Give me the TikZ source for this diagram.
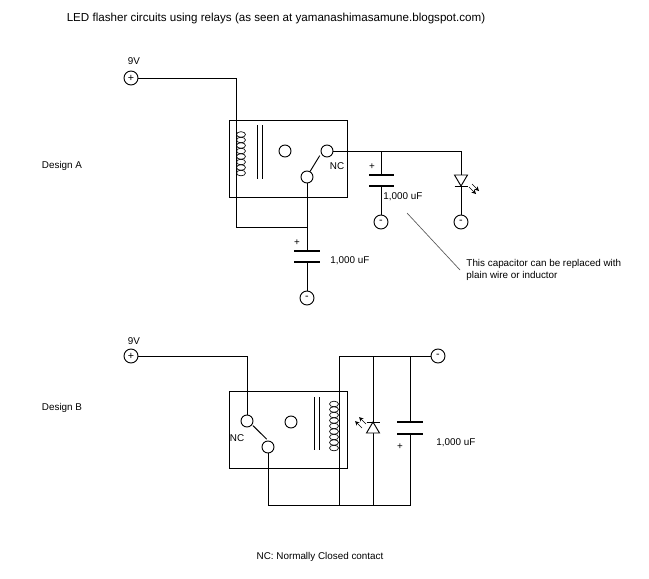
\documentclass[tikz,border=0pt]{standalone}
\usepackage{fontspec}
\setmainfont{Liberation Sans}
\begin{document}
\begin{tikzpicture}[x=0.75pt,y=-0.75pt,line width=0.7pt,
  term/.style={circle,draw,inner sep=0pt,minimum size=10.5pt,font=\fontsize{8}{8}\selectfont},
  cont/.style={circle,draw,inner sep=0pt,minimum size=9pt},
  lbl/.style={font=\fontsize{7.4}{9.5}\selectfont,inner sep=0pt},
  plate/.style={line width=1pt}]
\useasboundingbox (0,0) rectangle (649,578);
\node[lbl,font=\fontsize{8.7}{10}\selectfont] (title) at (276,19) {LED flasher circuits using relays (as seen at yamanashimasamune.blogspot.com)};
% ---------- Design A
\node[lbl] (dA) at (62,166) {Design A};
\node[lbl] (v9a) at (134,61) {9V};
\node[term] (pa) at (131,78) {+};
\draw (229,120) rectangle (347,197);
\coordinate (ctA) at (236,132); \coordinate (cbA) at (236,176);
\draw (pa) -| (ctA);
\foreach \i in {0,...,7} \draw[line width=0.5pt] (241,134.5+5.5*\i) ellipse (4.5 and 2.8);
\draw[line width=0.5pt] (ctA) -- (cbA);
\draw (257,125) -- (257,179) (262,125) -- (262,179);
\node[cont] (uA) at (285,151) {};
\node[cont] (ncA) at (327,151) {};
\node[cont] (coA) at (307,177) {};
\draw (coA.north) ++(3,1) -- ([xshift=-2pt]ncA.south west);
\node[lbl] (ncla) at (337,166) {NC};
\coordinate (jA) at (381,151); \coordinate (lA) at (461,151);
\draw (ncA.east) -- (lA);
% cap 1
\draw (jA) -- (381,175);
\draw[plate] (369,175) -- (394,175) (369,186) -- (394,186);
\node[term] (m1) at (381,222) {-};
\draw (381,186) -- (m1);
\node[lbl] at (372,167) {+};
\node[lbl,anchor=west] (c1) at (383,197) {1,000 uF};
% LED
\draw (lA) -- (461,175);
\draw (454.5,175) -- (467.5,175) -- (461,186) -- cycle;
\draw (454.5,186) -- (467.5,186);
\node[term] (m2) at (461,222) {-};
\draw (461,186) -- (m2);
\draw[line width=0.5pt,->,>=stealth] (469,187) -- (476,194);
\draw[line width=0.5pt,->,>=stealth] (472,184) -- (479,191);
% coil bottom & cap 2
\coordinate (jB) at (307,227);
\draw (cbA) |- (jB);
\draw (coA) -- (307,251);
\draw[plate] (294,251) -- (320,251) (294,262) -- (320,262);
\node[lbl] at (297,243) {+};
\node[lbl,anchor=west] (c2) at (330,261) {1,000 uF};
\node[term] (m3) at (307,298) {-};
\draw (307,262) -- (m3);
% note
\node[lbl,anchor=west,align=left] (note) at (466,270) {This capacitor can be replaced with\\plain wire or inductor};
\draw[line width=0.5pt,gray!70!black] (407,213) -- (460,270);
% ---------- Design B
\node[lbl] (dB) at (62,408) {Design B};
\node[lbl] (v9b) at (134,341) {9V};
\node[term] (pb) at (131,356) {+};
\draw (229,391) rectangle (347,468);
\node[cont] (ncB) at (247,421) {};
\node[cont] (uB) at (291,422) {};
\node[cont] (coB) at (268,447) {};
\draw (pb) -| (ncB.north);
\draw ([xshift=1pt]ncB.south east) -- ([xshift=-1pt,yshift=1pt]coB.north);
\node[lbl] (nclb) at (237,438) {NC};
\draw (314,397) -- (314,450) (319,397) -- (319,450);
\foreach \i in {0,...,8} \draw[line width=0.5pt] (334,404+5.5*\i) ellipse (4.5 and 2.8);
\node[term] (mB) at (438,356) {-};
\coordinate (tB) at (339,356); \coordinate (bB) at (339,505);
\draw (tB) -- (bB);
\draw (tB) -- (mB);
\draw (coB) |- (410,505) -- (410,434);
\draw[plate] (397,422) -- (423,422) (397,434) -- (423,434);
\draw (410,422) -- (410,356);
\node[lbl] at (400,447) {+};
\node[lbl,anchor=west] (c3) at (436,443) {1,000 uF};
\draw (373,356) -- (373,505);
\draw[fill=white] (366.5,433) -- (379.5,433) -- (373,422) -- cycle;
\draw (366.5,422) -- (379.5,422);
\draw[line width=0.5pt,->,>=stealth] (366,424) -- (359,417);
\draw[line width=0.5pt,->,>=stealth] (362,428) -- (355,421);
\node[lbl] (foot) at (320,557) {NC: Normally Closed contact};
\end{tikzpicture}
\end{document}
